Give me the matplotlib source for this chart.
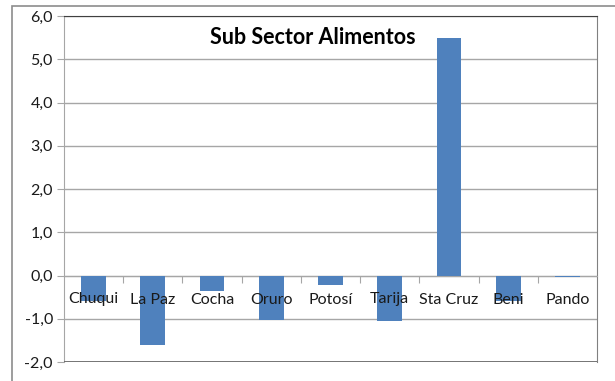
import matplotlib
matplotlib.use("Agg")
import matplotlib.pyplot as plt
from matplotlib.patches import Rectangle
from matplotlib.ticker import FuncFormatter, FixedLocator
from matplotlib.transforms import offset_copy

departamentos = ["Chuqui", "La Paz", "Cocha", "Oruro", "Potosí",
                 "Tarija", "Sta Cruz", "Beni", "Pando"]
variacion = [-0.6, -1.6, -0.35, -1.03, -0.22, -1.05, 5.48, -0.6, -0.04]
y_ticks = [-2, -1, 0, 1, 2, 3, 4, 5, 6]

plt.rcParams["font.family"] = ["Lato", "DejaVu Sans"]

fig = plt.figure(figsize=(6.15, 3.81), dpi=100)
ax = fig.add_axes([64 / 615, 1 - 362 / 381, (597 - 64) / 615, (362 - 16) / 381])

# chart frame
fig.patches.append(Rectangle((12 / 615, -0.1), 1.2, 1 - 6 / 381 + 0.1,
                             transform=fig.transFigure, fill=False,
                             edgecolor="#8c8c8c", linewidth=1.2))

x = range(len(departamentos))
ax.bar(x, variacion, width=0.42, color="#4f81bd", zorder=3)

ax.set_xlim(-0.5, len(departamentos) - 0.5)
ax.set_ylim(-2, 6)
ax.set_yticks(y_ticks)
ax.yaxis.set_major_formatter(FuncFormatter(lambda v, p: f"{v:.1f}".replace(".", ",")))
for v in y_ticks:
    ax.axhline(v, color="#a6a6a6", linewidth=1.0, zorder=0)
ax.axhline(-2, color="#606060", linewidth=1.2, zorder=3)

ax.spines["bottom"].set_position(("data", 0))
ax.spines["bottom"].set_color("#a6a6a6")
ax.spines["left"].set_color("#a6a6a6")
ax.spines["top"].set_color("#404040")
ax.spines["right"].set_color("#808080")
ax.xaxis.set_major_locator(FixedLocator([i + 0.5 for i in range(len(departamentos) - 1)]))
ax.xaxis.set_ticklabels([])
ax.tick_params(axis="x", length=5, color="#a6a6a6", direction="out")
ax.tick_params(axis="y", length=5, color="#a6a6a6", labelsize=11.5, labelcolor="#1a1a1a", pad=3)

lbl_tr = offset_copy(ax.transData, fig=fig, x=0, y=-24, units="dots")
for i, name in enumerate(departamentos):
    ax.text(i, 0, name, transform=lbl_tr, ha="center", va="center",
            fontsize=11.5, color="#1a1a1a", zorder=5)

fig.text(0.509, 1 - 37 / 381, "Sub Sector Alimentos", ha="center", va="center",
         fontsize=15.5, fontweight="bold", color="black")

fig.savefig("out.png", dpi=100)
